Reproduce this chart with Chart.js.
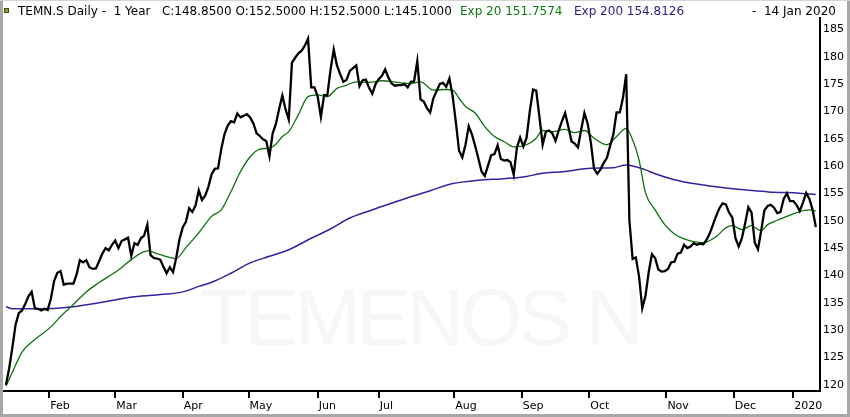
<!DOCTYPE html>
<html>
<head>
<meta charset="utf-8">
<title>TEMN.S Daily</title>
<script src="https://cdn.jsdelivr.net/npm/chart.js@4.4.1/dist/chart.umd.min.js"></script>
<style>
  html, body { margin: 0; padding: 0; background: #fff; }
  #quadro { position: relative; width: 850px; height: 417px; overflow: hidden; background: #fff; }
  #grafico { position: absolute; left: 0; top: 0; }
  .cabecalho { position: absolute; top: 4px; font: 12px "DejaVu Sans", sans-serif; line-height: 14px; white-space: pre; color: #000; }
  #marca { position: absolute; left: 200px; top: 278px; font: 80px "Liberation Sans", sans-serif; line-height: 1; letter-spacing: -4px; color: #f7f7f7; white-space: pre; }
  #icone { position: absolute; left: 4px; top: 8px; width: 3px; height: 3px; background: #9c9a2a; border: 1px solid #4a4a20; }
  .borda { position: absolute; background: #a8a8a8; }
</style>
</head>
<body>
<div id="quadro">
  <div id="marca">TEMENOS N</div>
  <canvas id="grafico" width="850" height="417"></canvas>
  <div id="icone"></div>
  <div class="cabecalho" style="left:18px">TEMN.S Daily -  1 Year   C:148.8500 O:152.5000 H:152.5000 L:145.1000</div>
  <div class="cabecalho" style="left:460px; color:#0f7a0f">Exp 20 151.7574</div>
  <div class="cabecalho" style="left:574px; color:#2c1a86">Exp 200 154.8126</div>
  <div class="cabecalho" style="left:752px">-  14 Jan 2020</div>
  <div class="borda" style="left:0; top:0; width:3px; height:417px"></div>
  <div class="borda" style="right:0; top:0; width:3px; height:417px"></div>
  <div class="borda" style="left:0; bottom:0; width:850px; height:3px"></div>
  <div class="borda" style="left:0; top:0; width:850px; height:1px; background:#d4d4d4"></div>
</div>
<script>
  // fechamento diario, um valor por pregao (14 jan 2019 a 14 jan 2020)
  const fechamento = [
    120.0, 123.0, 126.8, 131.0, 133.1, 133.6, 134.8, 136.2, 137.0, 134.0,
    133.9, 133.6, 133.9, 133.7, 135.8, 139.0, 140.5, 140.8, 138.3, 138.5,
    138.5, 138.5, 140.2, 142.8, 142.4, 142.8, 141.5, 141.2, 141.3, 142.6,
    144.0, 145.0, 144.6, 145.6, 146.4, 145.0, 146.3, 146.6, 146.9, 143.6,
    145.9, 145.6, 146.8, 147.3, 149.3, 143.7, 143.2, 143.1, 142.9, 141.6,
    140.4, 141.5, 140.6, 143.3, 146.6, 148.8, 149.8, 152.3, 151.6, 152.8,
    155.6, 153.8, 154.6, 156.2, 158.5, 159.5, 159.6, 163.1, 165.8, 167.4,
    168.2, 168.0, 169.6, 168.9, 169.2, 169.5, 168.9, 167.8, 166.0, 165.5,
    164.9, 164.6, 161.8, 166.0, 167.7, 170.4, 172.9, 170.4, 168.5, 178.9,
    179.8, 180.6, 181.1, 182.0, 183.3, 174.4, 174.4, 172.7, 169.0, 173.0,
    172.9, 177.6, 181.3, 178.4, 176.8, 175.4, 175.8, 177.4, 177.9, 178.4,
    174.6, 175.7, 175.8, 174.3, 173.2, 175.0, 175.9, 176.5, 177.7, 176.2,
    175.1, 174.7, 174.8, 174.8, 175.0, 174.4, 175.4, 175.5, 179.2, 172.2,
    171.8, 170.6, 169.8, 172.4, 173.7, 175.0, 175.2, 174.5, 176.0, 172.8,
    168.0, 162.8, 161.6, 163.9, 167.3, 165.8, 163.7, 161.4, 159.0, 158.2,
    160.1, 162.0, 162.2, 163.8, 161.3, 161.0, 161.1, 160.7, 158.4, 163.4,
    165.2, 163.6, 165.2, 170.0, 174.0, 173.8, 169.0, 163.9, 166.3, 166.5,
    166.0, 164.6, 166.5, 168.2, 169.7, 167.2, 164.5, 164.1, 163.4, 166.7,
    169.7, 167.8, 164.3, 159.5, 158.6, 159.4, 160.6, 161.5, 163.7, 165.8,
    169.8, 169.8, 172.5, 176.8, 150.0, 143.0, 143.3, 139.8, 134.0, 136.3,
    140.6, 143.9, 143.2, 141.1, 140.7, 140.8, 141.2, 142.4, 142.5, 144.0,
    144.2, 145.6, 145.0, 145.3, 145.9, 145.6, 145.8, 145.7, 146.5, 147.7,
    149.3, 150.9, 152.3, 153.2, 153.0, 151.5, 150.6, 146.8, 145.3, 146.8,
    149.5, 152.5, 151.5, 146.0, 144.8, 148.2, 151.9, 152.7, 152.9, 152.4,
    151.4, 151.6, 154.0, 155.0, 153.6, 153.6, 152.9, 151.8, 153.3, 155.1,
    154.0, 152.0, 148.85
  ];

  // media exponencial de 20 dias (pregao, valor)
  const exp20Dias = [0, 2, 5, 9, 14, 17, 21, 25, 29, 35, 39, 44, 48, 53, 56, 60, 64, 67, 70, 73,
    76, 79, 82, 84, 86, 88, 91, 94, 97, 100, 103, 106, 109, 113, 117, 122, 126, 129, 133, 137,
    139, 141, 143, 146, 149, 152, 155, 158, 162, 165, 167, 170, 174, 177, 180, 183, 187, 190, 193, 195,
    197, 199, 202, 205, 208, 211, 214, 217, 221, 224, 226, 229, 232, 235, 237, 240, 243, 246, 250, 252];
  const exp20Valores = [119.8, 122.3, 126.0, 128.3, 130.6, 132.5, 134.7, 137.0, 138.7, 141.0, 142.9, 144.5, 143.8, 143.1, 145.1, 147.8, 150.8, 152.0, 155.3, 159.0,
    161.7, 163.1, 163.3, 164.0, 165.4, 166.3, 169.4, 172.7, 173.0, 172.7, 174.2, 174.8, 175.4, 175.3, 175.6, 175.3, 175.1, 175.4, 173.9, 174.0,
    173.9, 172.4, 170.9, 169.7, 167.2, 165.4, 164.5, 163.5, 163.9, 165.1, 166.5, 166.3, 166.7, 166.1, 166.5, 165.1, 163.9, 165.4, 166.9, 164.8,
    161.1, 155.1, 152.0, 149.3, 147.6, 146.7, 146.2, 146.0, 147.1, 148.7, 149.1, 148.4, 149.1, 148.2, 149.3, 150.1, 150.8, 151.5, 152.0, 151.76];

  // media exponencial de 200 dias
  const exp200Dias = [0, 2, 9, 21, 29, 40, 50, 55, 60, 65, 70, 76, 82, 88, 95, 101, 107, 113, 120, 126,
    132, 139, 147, 155, 162, 166, 174, 182, 189, 193, 199, 202, 208, 214, 221, 227, 233, 239, 246, 252];
  const exp200Valores = [134.3, 133.9, 133.9, 134.3, 135.0, 136.1, 136.6, 137.0, 138.0, 139.0, 140.4, 142.3, 143.5, 144.7, 146.8, 148.5, 150.5, 151.8, 153.2, 154.4,
    155.5, 156.8, 157.4, 157.7, 158.1, 158.6, 159.0, 159.6, 159.7, 160.2, 159.3, 158.6, 157.5, 156.8, 156.2, 155.8, 155.5, 155.2, 155.1, 154.81];

  const mesesPosicao = [13.5, 34, 55, 75.5, 97, 116, 139.5, 160.5, 181.5, 205.5, 226.5, 245];
  const mesesRotulo = ['Feb', 'Mar', 'Apr', 'May', 'Jun', 'Jul', 'Aug', 'Sep', 'Oct', 'Nov', 'Dec', '2020'];
  const precoTicks = [120, 125, 130, 135, 140, 145, 150, 155, 160, 165, 170, 175, 180, 185];

  const fonte = { family: '"DejaVu Sans", sans-serif', size: 11 };

  new Chart(document.getElementById('grafico'), {
    type: 'line',
    data: {
      datasets: [{
        label: 'TEMN.S',
        data: fechamento.map((v, i) => ({ x: i, y: v })),
        borderColor: '#000',
        borderWidth: 2.3,
        pointRadius: 0,
        tension: 0
      }, {
        label: 'Exp 20',
        data: exp20Dias.map((d, i) => ({ x: d, y: exp20Valores[i] })),
        borderColor: '#0c720c',
        borderWidth: 1.3,
        pointRadius: 0,
        cubicInterpolationMode: 'monotone'
      }, {
        label: 'Exp 200',
        data: exp200Dias.map((d, i) => ({ x: d, y: exp200Valores[i] })),
        borderColor: '#3a1fa0',
        borderWidth: 1.5,
        pointRadius: 0,
        cubicInterpolationMode: 'monotone'
      }]
    },
    options: {
      responsive: false,
      animation: false,
      devicePixelRatio: 1,
      layout: { padding: { left: 4, top: 18, right: 0, bottom: 0 } },
      plugins: { legend: { display: false }, tooltip: { enabled: false } },
      scales: {
        x: {
          type: 'linear',
          bounds: 'data',
          min: -0.6,
          max: 253.3,
          afterBuildTicks: (s) => { s.ticks = mesesPosicao.map(v => ({ value: v })); },
          afterFit: (s) => { s.height = 26; },
          grid: { drawOnChartArea: false, drawTicks: true, tickLength: 7, color: '#000', lineWidth: 2 },
          border: { display: true, color: '#000', width: 2 },
          ticks: {
            autoSkip: false,
            maxRotation: 0,
            align: 'start',
            labelOffset: 1,
            padding: 2,
            color: '#000',
            font: fonte,
            callback: (v, i) => mesesRotulo[i]
          }
        },
        y: {
          position: 'right',
          bounds: 'data',
          min: 118.88,
          max: 187.07,
          afterBuildTicks: (s) => { s.ticks = precoTicks.map(v => ({ value: v })); },
          afterFit: (s) => { s.width = 30; },
          grid: { drawOnChartArea: false, drawTicks: false },
          border: { display: true, color: '#000', width: 2 },
          ticks: { padding: 3, color: '#000', font: fonte, crossAlign: 'near' }
        }
      }
    }
  });
</script>
</body>
</html>
